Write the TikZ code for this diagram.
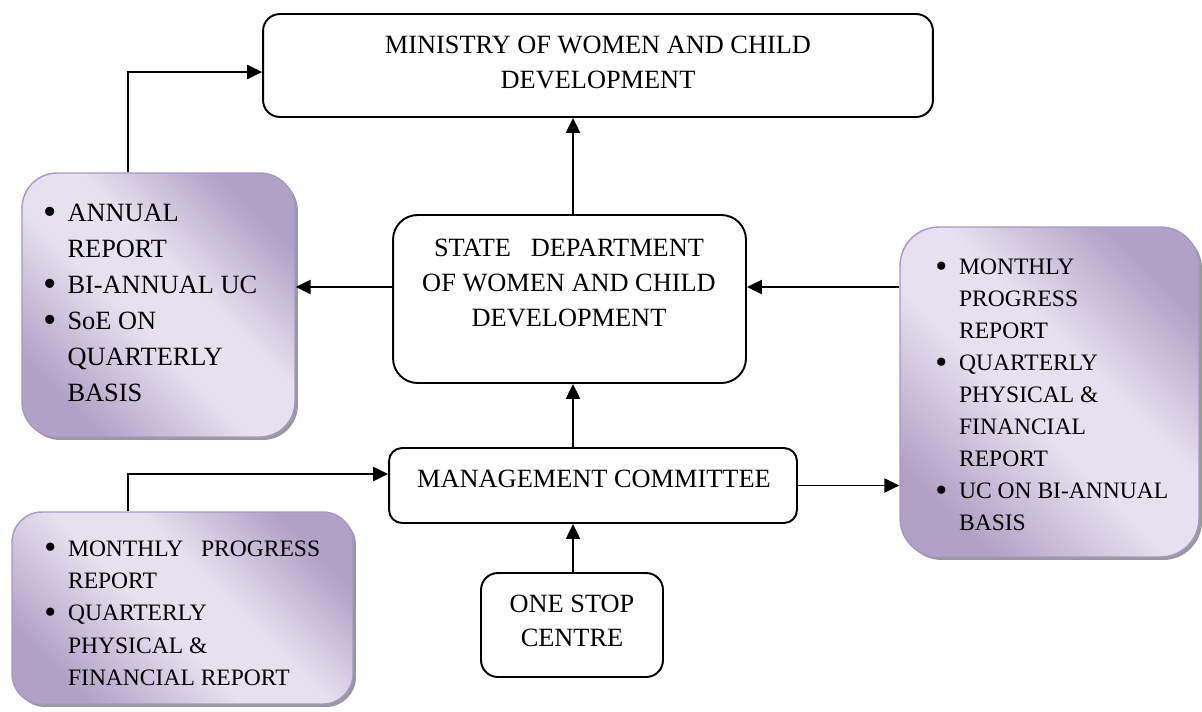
\documentclass[tikz,border=0pt]{standalone}
\usepackage{fontspec}
\setmainfont{Liberation Serif}
\usetikzlibrary{arrows.meta,shadows}

\definecolor{lilacdark}{RGB}{178,161,199}
\definecolor{lilaclight}{RGB}{230,225,238}
\definecolor{lilacline}{RGB}{168,150,196}
\pgfdeclarehorizontalshading{lilacfade}{100bp}{color(0bp)=(lilacdark); color(25bp)=(lilacdark); color(45bp)=(lilaclight); color(57bp)=(lilaclight); color(75bp)=(lilacdark); color(100bp)=(lilacdark)}

\newcommand{\itm}{\makebox[13.5pt][l]{\smash{\raisebox{-.11em}{\scalebox{1.45}{\textbullet}}}}}
\newcommand{\nxt}{\hspace*{13.5pt}}

\begin{document}
\begin{tikzpicture}[x=0.02cm,y=-0.02cm,
    box/.style={draw, line width=1.1pt, inner sep=0pt, rounded corners=#1},
    report/.style={shade, shading=lilacfade, shading angle=45, draw=lilacline, line width=.8pt,
      inner sep=0pt, rounded corners=#1,
      drop shadow={shadow xshift=.06cm, shadow yshift=-.06cm, fill=black!40, opacity=1}},
    txt/.style={align=center, inner sep=0pt, font=\fontsize{15}{20}\selectfont},
    list/.style={align=left, inner sep=0pt, anchor=west},
    arr/.style={line width=1.1pt, -{Triangle[length=8.5pt,width=8pt]}}]

  \useasboundingbox (0,0) rectangle (1202,711);

  % boxes
  \node[box=9.6pt, minimum width=13.4cm, minimum height=2.06cm] (ministry) at (598,65.5) {};
  \node[box=14pt, minimum width=7.06cm, minimum height=3.36cm] (state) at (569.5,299) {};
  \node[box=7.4pt, minimum width=8.16cm, minimum height=1.5cm] (mgmt) at (593,485.5) {};
  \node[box=9.6pt, minimum width=3.64cm, minimum height=2.08cm] (onestop) at (572,625) {};

  \node[report=20pt, minimum width=5.46cm, minimum height=5.28cm] (annual) at (158.5,305) {};
  \node[report=17pt, minimum width=6.82cm, minimum height=3.84cm] (monthly) at (182.5,608) {};
  \node[report=22pt, minimum width=5.98cm, minimum height=6.6cm] (ucbox) at (1049.5,392) {};

  % texts
  \node[txt] (ministry-t) at (598,62.5) {MINISTRY OF WOMEN AND CHILD\\DEVELOPMENT};
  \node[txt] (state-t) at (569,283) {STATE\ \ \ DEPARTMENT\\OF WOMEN AND CHILD\\DEVELOPMENT};
  \node[txt] (mgmt-t) at (594,479) {MANAGEMENT COMMITTEE};
  \node[txt, font=\fontsize{15}{19.3}\selectfont] (onestop-t) at (572,621) {ONE STOP\\CENTRE};

  \node[list, font=\fontsize{15}{20.4}\selectfont] (annual-t) at (43.5,303)
    {\itm ANNUAL\\\nxt REPORT\\\itm BI-ANNUAL UC\\\itm SoE ON\\\nxt QUARTERLY\\\nxt BASIS};
  \node[list, font=\fontsize{13.4}{18.4}\selectfont] (monthly-t) at (44,613)
    {\itm MONTHLY\hspace{.75em}PROGRESS\\\nxt REPORT\\\itm QUARTERLY\\\nxt PHYSICAL \&\\\nxt FINANCIAL REPORT};
  \node[list, font=\fontsize{13.4}{18.2}\selectfont] (ucbox-t) at (935,395)
    {\itm MONTHLY\\\nxt PROGRESS\\\nxt REPORT\\\itm QUARTERLY\\\nxt PHYSICAL \&\\\nxt FINANCIAL\\\nxt REPORT\\\itm UC ON BI-ANNUAL\\\nxt BASIS};

  % connectors
  \coordinate (c1) at (128,72);
  \coordinate (c2) at (573,0);
  \coordinate (c3) at (0,287);
  \coordinate (c4) at (0,474);

  \draw[arr] (annual.north -| c1) |- (ministry.west |- c1);
  \draw[arr] (state.north -| c2) -- (ministry.south -| c2);
  \draw[arr] (state.west |- c3) -- (annual.east |- c3);
  \draw[arr] (ucbox.west |- c3) -- (state.east |- c3);
  \draw[arr] (mgmt.north -| c2) -- (state.south -| c2);
  \draw[arr] (onestop.north -| c2) -- (mgmt.south -| c2);
  \draw[arr] (monthly.north -| c1) |- (mgmt.west |- c4);
  \draw[arr] (mgmt.east) -- (ucbox.west |- mgmt.east);

\end{tikzpicture}
\end{document}
